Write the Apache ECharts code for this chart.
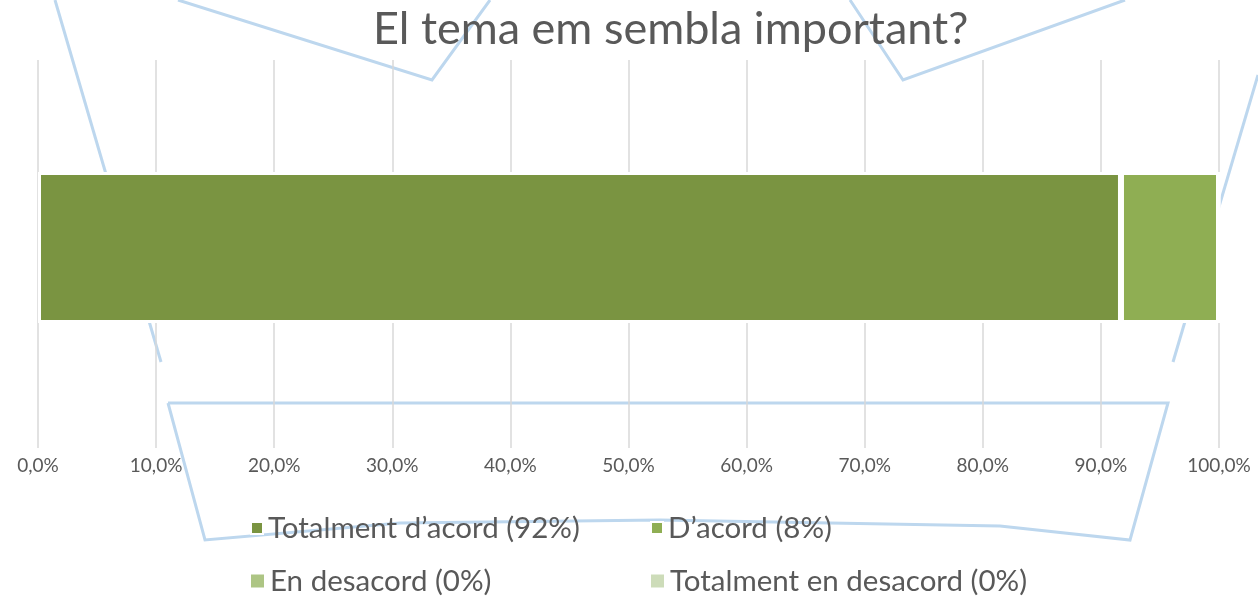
<!DOCTYPE html>
<html>
<head>
<meta charset="utf-8">
<script src="https://cdn.jsdelivr.net/npm/echarts@6/dist/echarts.min.js"></script>
<style>
  html, body { margin: 0; padding: 0; background: #fff; }
  #chart { width: 1258px; height: 596px; }
</style>
</head>
<body>
<div id="chart"></div>
<script>
// dades
const categories = ['El tema em sembla important?'];
const seriesNames = ['Totalment d\u2019acord (92%)', 'D\u2019acord (8%)', 'En desacord (0%)', 'Totalment en desacord (0%)'];
const totalmentAcord = [91.7];
const acord = [8.3];
const desacord = [0];
const totalmentDesacord = [0];

const colors = ['#7a9441', '#8fae53', '#adc584', '#cddcb9'];
const font = 'Lato';

// linies decoratives del fons
const deco = [
  [[55, 0], [161, 362]],
  [[178, 0], [432, 80], [490, 0]],
  [[850, 0], [903, 80], [1125, 0]],
  [[1258, 75], [1173, 362]],
  [[168, 403], [1168, 403], [1130, 540], [1000, 526], [660, 520], [400, 523], [205, 540], [168, 403]]
];

const chart = echarts.init(document.getElementById('chart'));

const legendPos = [[245, 508, 12], [645, 508, 12], [244, 561, 15], [644, 561, 15]];

const series = [totalmentAcord, acord, desacord, totalmentDesacord].map((d, i) => ({
  name: seriesNames[i],
  type: 'bar',
  stack: 'total',
  data: d,
  barWidth: 151,
  barGap: '0%',
  z: 3,
  itemStyle: { color: colors[i], borderColor: '#ffffff', borderWidth: 3 }
}));
// serie buida per desplaçar la barra cap amunt
series.push({ name: 'buit', type: 'bar', stack: 'buit', data: [0], barWidth: 13, barGap: '0%', silent: true });

chart.setOption({
  animation: false,
  title: {
    text: categories[0],
    left: 368,
    top: 2,
    textStyle: { fontFamily: font, fontSize: 45, fontWeight: 'normal', color: '#595959' }
  },
  grid: { left: 38, right: 39, top: 60, bottom: 148 },
  xAxis: {
    type: 'value',
    min: 0,
    max: 100,
    interval: 10,
    axisLine: { show: false },
    axisTick: { show: false },
    splitLine: { lineStyle: { color: '#d9d9d9', width: 1.5 } },
    axisLabel: {
      fontFamily: font, fontSize: 19, color: '#595959', margin: 8,
      formatter: v => v.toFixed(1).replace('.', ',') + '%'
    }
  },
  yAxis: {
    type: 'category',
    data: categories,
    axisLine: { show: false },
    axisTick: { show: false },
    axisLabel: { show: false }
  },
  legend: legendPos.map((p, i) => ({
    data: [seriesNames[i]],
    left: p[0],
    top: p[1],
    itemWidth: p[2],
    itemHeight: p[2],
    itemGap: 10,
    icon: 'rect',
    selectedMode: false,
    textStyle: { fontFamily: font, fontSize: 29.5, color: '#595959' }
  })),
  graphic: deco.map(pts => ({
    type: 'polyline',
    z: 0,
    silent: true,
    shape: { points: pts },
    style: { stroke: '#bdd7ee', lineWidth: 3, fill: null }
  })),
  series: series
});
</script>
</body>
</html>
